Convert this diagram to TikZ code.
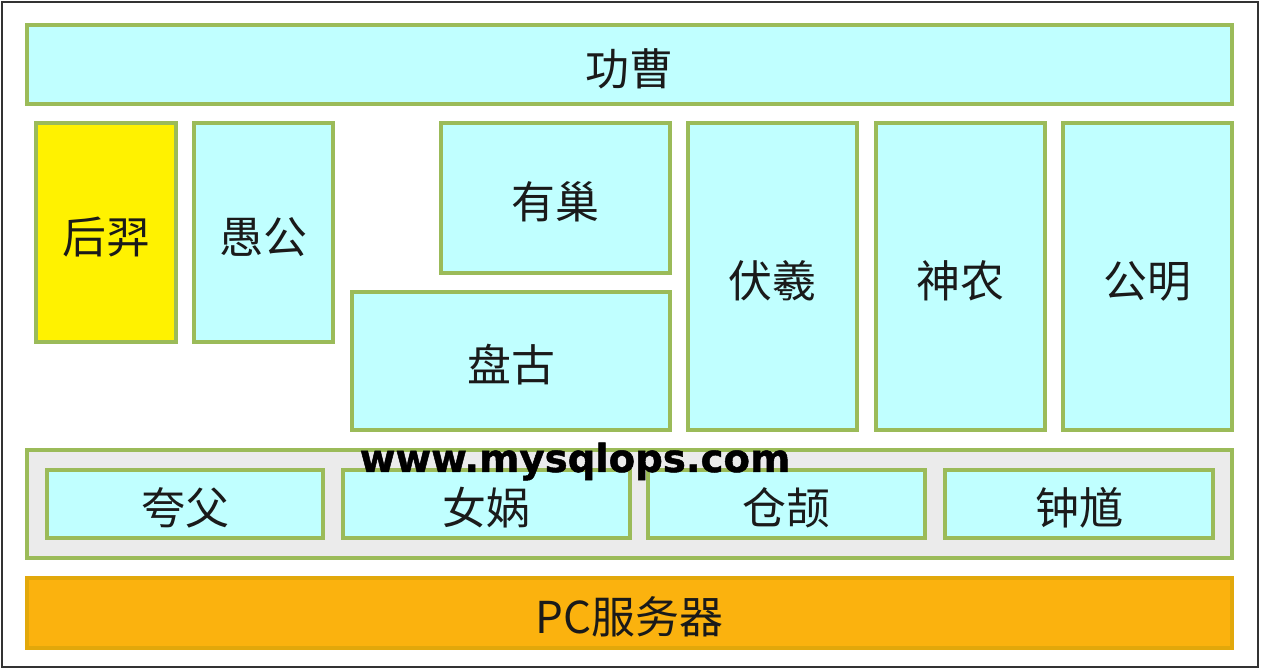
\documentclass[tikz,border=0pt]{standalone}
\usepackage{fontspec}
\newfontfamily\cjk{Noto Sans CJK SC}
\newfontfamily\wmark{DejaVu Sans Bold}[FakeBold=1.2]
\usepackage{tikz}
\definecolor{boxfill}{HTML}{C0FFFF}
\definecolor{boxline}{HTML}{9BBB59}
\definecolor{grpfill}{HTML}{EBEBEB}
\definecolor{pcfill}{HTML}{FBB20E}
\definecolor{txt}{HTML}{1A1A1A}

\begin{document}
\begin{tikzpicture}[
   blk/.style={draw=boxline, fill=boxfill, line width=1.8pt, text=txt,
      font=\cjk\fontsize{25}{30}\selectfont, inner sep=0pt,
      text height=0.94cm, text depth=0.106cm},
   grp/.style={blk, fill=grpfill},
   ]
   \useasboundingbox (0,0) rectangle (25.24,13.4);
   \draw[black!80, line width=1.2pt] (0.04,0.06) rectangle (25.16,13.36);
   % top row
   \node[blk, minimum width=24.1cm, minimum height=1.58cm] (gongcao) at (12.59,12.11) {功曹};
   % middle blocks
   \node[blk, fill=yellow, minimum width=2.8cm, minimum height=4.38cm] (houyi) at (2.12,8.75) {后羿};
   \node[blk, minimum width=2.78cm, minimum height=4.38cm] (yugong) at (5.27,8.75) {愚公};
   \node[blk, minimum width=4.58cm, minimum height=3.0cm] (youchao) at (11.11,9.44) {有巢};
   \node[blk, minimum width=6.36cm, minimum height=2.76cm] (pangu) at (10.22,6.18) {盘古};
   \node[blk, minimum width=3.38cm, minimum height=6.14cm] (fuxi) at (15.45,7.87) {伏羲};
   \node[blk, minimum width=3.38cm, minimum height=6.14cm] (shennong) at (19.21,7.87) {神农};
   \node[blk, minimum width=3.38cm, minimum height=6.14cm] (gongming) at (22.95,7.87) {公明};
   % bottom group
   \node[grp, minimum width=24.1cm, minimum height=2.16cm] (group) at (12.59,3.32) {};
   \node[blk, minimum width=5.52cm, minimum height=1.36cm] (kuafu) at (3.70,3.32) {夸父};
   \node[blk, minimum width=5.74cm, minimum height=1.36cm] (nvwa) at (9.73,3.32) {女娲};
   \node[blk, minimum width=5.54cm, minimum height=1.36cm] (cangjie) at (15.73,3.32) {仓颉};
   \node[blk, minimum width=5.36cm, minimum height=1.36cm] (zhongkui) at (21.58,3.32) {钟馗};
   \node[blk, fill=pcfill, draw=pcfill!80!olive, minimum width=24.1cm, minimum height=1.4cm] (pc) at (12.59,1.14) {PC服务器};
   % watermark
   \node[anchor=base, inner sep=0pt, font=\wmark\fontsize{22}{26}\selectfont] (site) at (11.5,3.96) {www.mysqlops.com};
\end{tikzpicture}
\end{document}
